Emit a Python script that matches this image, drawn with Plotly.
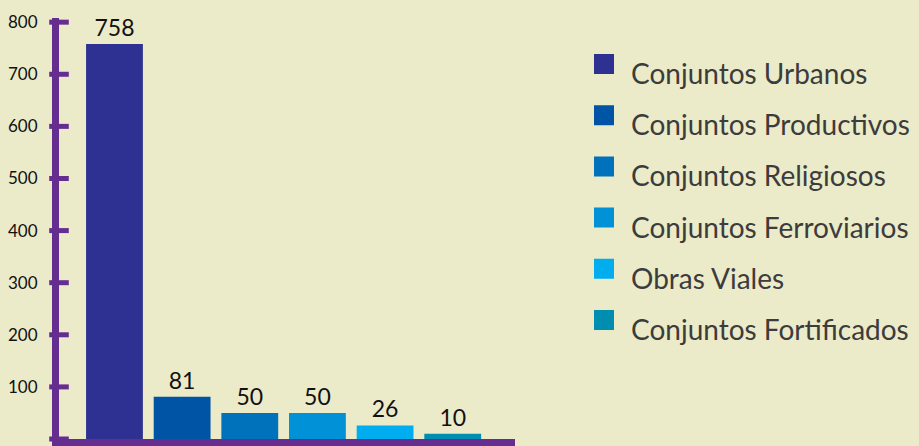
import plotly.graph_objects as go

# data
categories = ["Conjuntos Urbanos", "Conjuntos Productivos", "Conjuntos Religiosos",
              "Conjuntos Ferroviarios", "Obras Viales", "Conjuntos Fortificados"]
counts = [758, 81, 50, 50, 26, 10]
colors = ["#2E3192", "#0054A6", "#0072BC", "#0091D6", "#00AEEF", "#008EB0"]
y_ticks = [0, 100, 200, 300, 400, 500, 600, 700, 800]

BG = "#EBEAC9"
PURPLE = "#662D91"
FONT = "Lato"

positions = list(range(len(categories)))
legend_rows = list(range(len(categories)))

fig = go.Figure()

fig.add_trace(go.Bar(
    x=positions, y=counts,
    marker=dict(color=colors, line=dict(width=0)),
    text=[str(c) for c in counts], textposition="outside",
    textfont=dict(family=FONT, size=23, color="#111111"),
    cliponaxis=False, hovertext=categories, width=0.84,
    showlegend=False,
))

# tick marks crossing the y axis line
fig.add_trace(go.Scatter(
    x=[-0.82] * len(y_ticks), y=y_ticks, mode="markers",
    marker=dict(symbol="line-ew", size=14, line=dict(width=5, color=PURPLE)),
    cliponaxis=False, hoverinfo="skip", showlegend=False,
))

# legend drawn on its own axes
fig.add_trace(go.Scatter(
    x=[72] * len(categories), y=legend_rows, mode="markers",
    marker=dict(symbol="square", size=18, color=colors,
                line=dict(width=2, color=colors)),
    xaxis="x2", yaxis="y2", cliponaxis=False, hovertext=categories,
    showlegend=False,
))

for row, name in zip(legend_rows, categories):
    fig.add_annotation(x=97, y=row, xref="x2", yref="y2", text=name,
                       showarrow=False, xanchor="left", yanchor="middle", yshift=-9,
                       font=dict(family=FONT, size=28, color="#3C3C3C"))

fig.update_layout(
    width=919, height=446,
    margin=dict(l=59, r=0, t=18, b=7),
    paper_bgcolor=BG, plot_bgcolor=BG,
    font=dict(family=FONT),
    xaxis=dict(domain=[0, 0.5302], range=[-0.82, 5.92], showgrid=False, zeroline=False,
               showticklabels=False, ticks="", showline=True, linewidth=7, linecolor=PURPLE),
    yaxis=dict(range=[0, 808], tickvals=y_ticks, showgrid=False, zeroline=False,
               ticks="", showline=True, linewidth=7, linecolor=PURPLE,
               tickfont=dict(family=FONT, size=17, color="#111111"),
               ticklabelstandoff=11),
    xaxis2=dict(domain=[0.55, 1], range=[0, 387], anchor="y2", visible=False),
    yaxis2=dict(domain=[0, 1], range=[7.324, -0.898], anchor="x2", visible=False),
    bargap=0.16,
)

fig.write_html("out.html", config={"displayModeBar": False},
               post_script="document.body.style.margin='0';"
               "document.body.style.overflow='hidden';")
